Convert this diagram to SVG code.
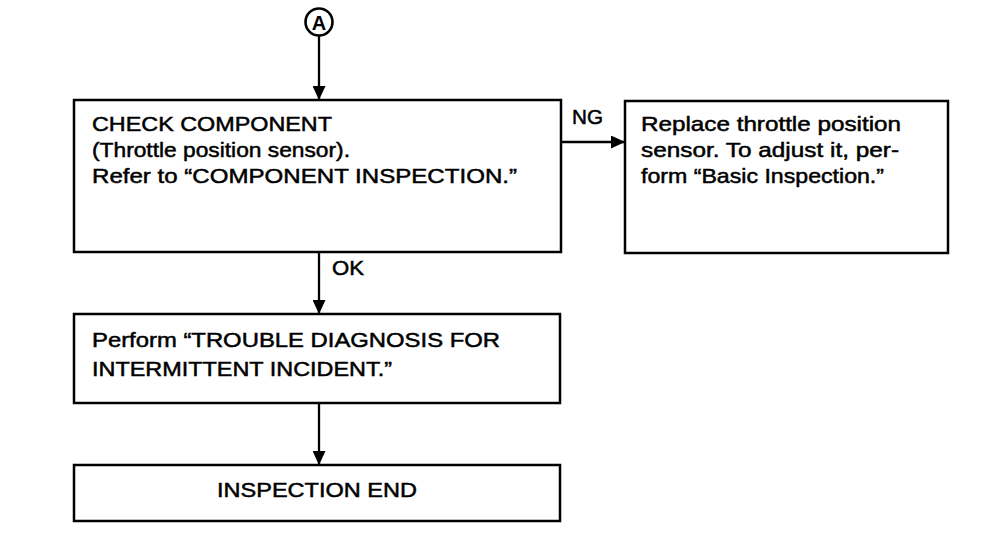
<svg xmlns="http://www.w3.org/2000/svg" width="992" height="548" viewBox="0 0 992 548">
<style>
.box{fill:#fff;stroke:#000;stroke-width:2.5}
.t{font-family:"Liberation Sans",Arial,sans-serif;font-size:21px;fill:#000;stroke:#000;stroke-width:0.5}
.lbl{font-family:"Liberation Sans",Arial,sans-serif;font-size:21px;fill:#000;stroke:#000;stroke-width:0.5}
.con{fill:none;stroke:#000;stroke-width:2.3}
</style>
<defs>
<marker id="arr" viewBox="0 0 14 13" refX="14" refY="6.5" markerWidth="14" markerHeight="13" markerUnits="userSpaceOnUse" orient="auto">
<path d="M0,0 L14,6.5 L0,13 z" fill="#000"/>
</marker>
</defs>
<rect width="992" height="548" fill="#fff"/>
<g id="start-A">
<circle cx="319" cy="22" r="13.5" fill="#fff" stroke="#000" stroke-width="2.6"/>
<text x="319" y="29.5" text-anchor="middle" style="font-family:'Liberation Sans',Arial,sans-serif;font-size:20px;font-weight:bold">A</text>
</g>
<g id="connectors">
<path class="con" d="M319,36 L319,100" marker-end="url(#arr)"/>
<path class="con" d="M561,142 L625,142" marker-end="url(#arr)"/>
<path class="con" d="M319,252 L319,314" marker-end="url(#arr)"/>
<path class="con" d="M319,403 L319,465" marker-end="url(#arr)"/>
<text class="lbl" x="572" y="124" textLength="31" lengthAdjust="spacingAndGlyphs">NG</text>
<text class="lbl" x="332" y="275" textLength="32" lengthAdjust="spacingAndGlyphs">OK</text>
</g>
<g id="check-component">
<rect class="box" x="74" y="100" width="487" height="152"/>
<text class="t" x="92" y="131" textLength="240" lengthAdjust="spacingAndGlyphs">CHECK COMPONENT</text>
<text class="t" x="92" y="157" textLength="258" lengthAdjust="spacingAndGlyphs">(Throttle position sensor).</text>
<text class="t" x="92" y="183" textLength="425" lengthAdjust="spacingAndGlyphs">Refer to “COMPONENT INSPECTION.”</text>
</g>
<g id="replace-sensor">
<rect class="box" x="625" y="101" width="323" height="152"/>
<text class="t" x="641" y="131" textLength="260" lengthAdjust="spacingAndGlyphs">Replace throttle position</text>
<text class="t" x="641" y="157" textLength="258" lengthAdjust="spacingAndGlyphs">sensor. To adjust it, per-</text>
<text class="t" x="641" y="183" textLength="243" lengthAdjust="spacingAndGlyphs">form “Basic Inspection.”</text>
</g>
<g id="trouble-diagnosis">
<rect class="box" x="74" y="314" width="486" height="89"/>
<text class="t" x="92" y="347" textLength="408" lengthAdjust="spacingAndGlyphs">Perform “TROUBLE DIAGNOSIS FOR</text>
<text class="t" x="92" y="376" textLength="300" lengthAdjust="spacingAndGlyphs">INTERMITTENT INCIDENT.”</text>
</g>
<g id="inspection-end">
<rect class="box" x="74" y="465" width="486" height="56"/>
<text class="t" x="317" y="497" text-anchor="middle" textLength="200" lengthAdjust="spacingAndGlyphs">INSPECTION END</text>
</g>
</svg>
